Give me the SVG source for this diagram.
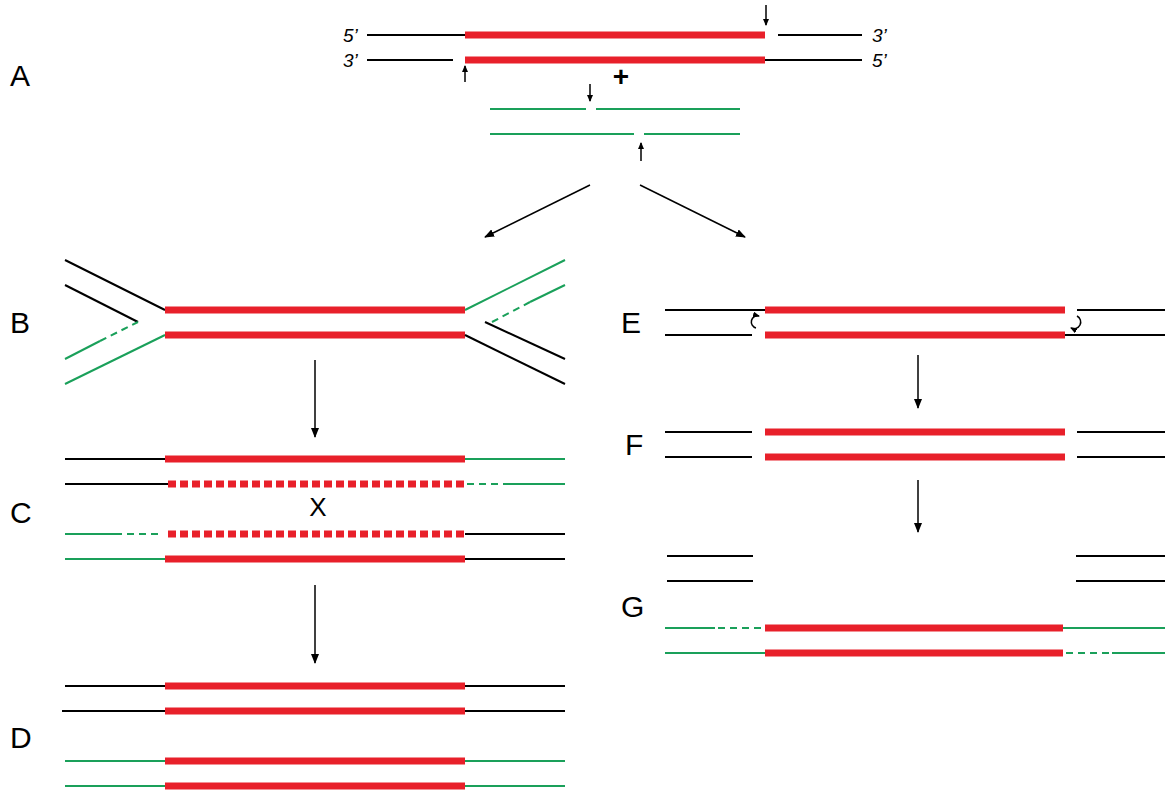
<svg xmlns="http://www.w3.org/2000/svg" width="1176" height="800" viewBox="0 0 1176 800">
<style>
.k{stroke:#000;stroke-width:2;fill:none}
.g{stroke:#1aa05a;stroke-width:2;fill:none}
.gd{stroke:#1aa05a;stroke-width:2;fill:none;stroke-dasharray:7,5}
.r{stroke:#e8202a;stroke-width:7;fill:none}
.rd{stroke:#e8202a;stroke-width:7;fill:none;stroke-dasharray:8,4}
.lab{font-family:"Liberation Sans",Arial,sans-serif;font-size:30px;fill:#000}
.end{font-family:"Liberation Sans",Arial,sans-serif;font-size:19px;font-style:italic;fill:#000}
.a{stroke:#000;stroke-width:1.5;fill:none}
</style>
<defs>
<marker id="ah" markerWidth="10" markerHeight="8" refX="9" refY="4" orient="auto" markerUnits="userSpaceOnUse"><path d="M0,0 L10,4 L0,8 z" fill="#000"/></marker>
<marker id="sh" markerWidth="7" markerHeight="6" refX="6" refY="3" orient="auto" markerUnits="userSpaceOnUse"><path d="M0,0 L7,3 L0,6 z" fill="#000"/></marker>
</defs>
<text class="lab" x="10" y="86">A</text>
<text class="lab" x="10" y="333">B</text>
<text class="lab" x="10" y="523">C</text>
<text class="lab" x="10" y="748">D</text>
<text class="lab" x="621" y="333">E</text>
<text class="lab" x="625" y="455">F</text>
<text class="lab" x="621" y="617">G</text>
<g id="nodeA">
<line class="k" x1="367" y1="35" x2="465" y2="35"/><line class="r" x1="465" y1="35" x2="765" y2="35"/><line class="k" x1="778" y1="35" x2="862" y2="35"/>
<line class="k" x1="367" y1="60" x2="453" y2="60"/><line class="r" x1="465" y1="60" x2="765" y2="60"/><line class="k" x1="765" y1="60" x2="862" y2="60"/>
<text class="end" x="343" y="42">5’</text><text class="end" x="343" y="67">3’</text>
<text class="end" x="872" y="42">3’</text><text class="end" x="872" y="67">5’</text>
<line class="a" x1="766" y1="5" x2="766" y2="25" marker-end="url(#sh)"/>
<line class="a" x1="465" y1="82" x2="465" y2="66" marker-end="url(#sh)"/>
<text x="621" y="86" font-family="Liberation Sans,Arial,sans-serif" font-size="28" font-weight="bold" text-anchor="middle">+</text>
<line class="g" x1="490" y1="109" x2="586" y2="109"/><line class="g" x1="596" y1="109" x2="740" y2="109"/>
<line class="g" x1="490" y1="134" x2="634" y2="134"/><line class="g" x1="644" y1="134" x2="740" y2="134"/>
<line class="a" x1="590" y1="84" x2="590" y2="101" marker-end="url(#sh)"/>
<line class="a" x1="641" y1="161" x2="641" y2="143" marker-end="url(#sh)"/>
</g>
<g id="nodeB">
<line class="k" x1="65" y1="260" x2="165" y2="310"/><line class="k" x1="65" y1="285" x2="138" y2="322"/>
<line class="g" x1="65" y1="359" x2="100" y2="341"/><line class="gd" x1="100" y1="341" x2="138" y2="322"/>
<line class="g" x1="65" y1="384" x2="165" y2="335"/>
<line class="r" x1="165" y1="310" x2="465" y2="310"/><line class="r" x1="165" y1="335" x2="465" y2="335"/>
<line class="g" x1="465" y1="310" x2="565" y2="260"/><line class="g" x1="565" y1="285" x2="530" y2="302"/><line class="gd" x1="530" y1="302" x2="492" y2="322"/>
<line class="k" x1="485" y1="322" x2="565" y2="359"/><line class="k" x1="465" y1="335" x2="565" y2="384"/>
</g>
<g id="nodeC">
<line class="k" x1="65" y1="459" x2="165" y2="459"/><line class="r" x1="165" y1="459" x2="465" y2="459"/><line class="g" x1="465" y1="459" x2="565" y2="459"/>
<line class="k" x1="65" y1="484" x2="168" y2="484"/><line class="rd" x1="168" y1="484" x2="465" y2="484"/><line class="gd" x1="467" y1="484" x2="510" y2="484"/><line class="g" x1="510" y1="484" x2="565" y2="484"/>
<text x="318" y="516" font-family="Liberation Sans,Arial,sans-serif" font-size="26" text-anchor="middle">X</text>
<line class="g" x1="65" y1="534" x2="122" y2="534"/><line class="gd" x1="127" y1="534" x2="162" y2="534"/><line class="rd" x1="168" y1="534" x2="465" y2="534"/><line class="k" x1="465" y1="534" x2="565" y2="534"/>
<line class="g" x1="65" y1="559" x2="165" y2="559"/><line class="r" x1="165" y1="559" x2="465" y2="559"/><line class="k" x1="465" y1="559" x2="565" y2="559"/>
</g>
<g id="nodeD">
<line class="k" x1="65" y1="686" x2="165" y2="686"/><line class="r" x1="165" y1="686" x2="465" y2="686"/><line class="k" x1="465" y1="686" x2="565" y2="686"/>
<line class="k" x1="62" y1="711" x2="165" y2="711"/><line class="r" x1="165" y1="711" x2="465" y2="711"/><line class="k" x1="465" y1="711" x2="565" y2="711"/>
<line class="g" x1="65" y1="761" x2="165" y2="761"/><line class="r" x1="165" y1="761" x2="465" y2="761"/><line class="g" x1="465" y1="761" x2="565" y2="761"/>
<line class="g" x1="65" y1="786" x2="165" y2="786"/><line class="r" x1="165" y1="786" x2="465" y2="786"/><line class="g" x1="465" y1="786" x2="565" y2="786"/>
</g>
<g id="nodeE">
<line class="k" x1="665" y1="310" x2="765" y2="310"/><line class="r" x1="765" y1="310" x2="1065" y2="310"/><line class="k" x1="1077" y1="310" x2="1165" y2="310"/>
<line class="k" x1="665" y1="335" x2="752" y2="335"/><line class="r" x1="765" y1="335" x2="1065" y2="335"/><line class="k" x1="1065" y1="335" x2="1165" y2="335"/>
<path class="a" d="M756,328 A6,6 0 0 1 759,316" marker-end="url(#sh)"/>
<path class="a" d="M1077,316 A6,6 0 0 1 1071,328" marker-end="url(#sh)"/>
</g>
<g id="nodeF">
<line class="k" x1="665" y1="432" x2="752" y2="432"/><line class="r" x1="765" y1="432" x2="1065" y2="432"/><line class="k" x1="1077" y1="432" x2="1165" y2="432"/>
<line class="k" x1="665" y1="457" x2="752" y2="457"/><line class="r" x1="765" y1="457" x2="1065" y2="457"/><line class="k" x1="1077" y1="457" x2="1165" y2="457"/>
</g>
<g id="nodeG">
<line class="k" x1="667" y1="556" x2="753" y2="556"/><line class="k" x1="667" y1="581" x2="753" y2="581"/>
<line class="k" x1="1076" y1="556" x2="1165" y2="556"/><line class="k" x1="1076" y1="581" x2="1165" y2="581"/>
<line class="g" x1="665" y1="628" x2="715" y2="628"/><line class="gd" x1="718" y1="628" x2="765" y2="628"/><line class="r" x1="765" y1="628" x2="1063" y2="628"/><line class="g" x1="1063" y1="628" x2="1165" y2="628"/>
<line class="g" x1="665" y1="653" x2="765" y2="653" stroke-width="1.5"/><line class="r" x1="765" y1="653" x2="1063" y2="653"/><line class="gd" x1="1066" y1="653" x2="1112" y2="653"/><line class="g" x1="1112" y1="653" x2="1165" y2="653"/>
</g>
<g id="connectors">
<line class="a" x1="590" y1="185" x2="485" y2="237" marker-end="url(#ah)"/>
<line class="a" x1="640" y1="185" x2="745" y2="237" marker-end="url(#ah)"/>
<line class="a" x1="315" y1="360" x2="315" y2="437" marker-end="url(#ah)"/>
<line class="a" x1="315" y1="585" x2="315" y2="663" marker-end="url(#ah)"/>
<line class="a" x1="918" y1="355" x2="918" y2="408" marker-end="url(#ah)"/>
<line class="a" x1="918" y1="480" x2="918" y2="532" marker-end="url(#ah)"/>
</g>
</svg>
